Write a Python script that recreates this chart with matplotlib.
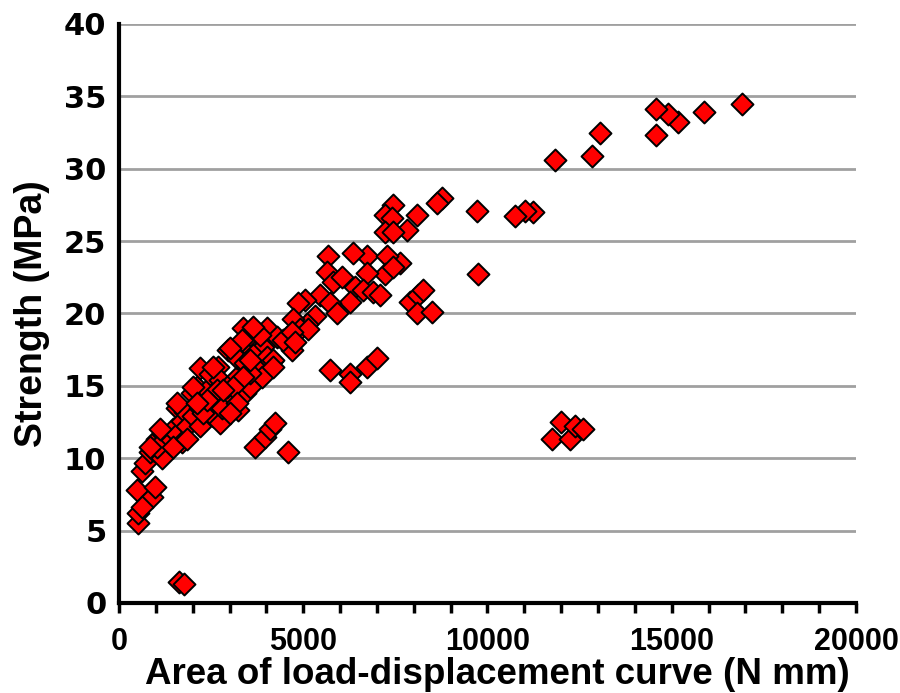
import matplotlib
matplotlib.use("Agg")
import matplotlib.pyplot as plt
from matplotlib.ticker import MultipleLocator

plt.rcParams['font.family'] = ['Liberation Sans', 'DejaVu Sans']
plt.rcParams['font.weight'] = 'bold'

# Area of load-displacement curve (N mm) vs strength (MPa)
area = [
    16910, 15880, 15170, 14900, 14570, 14570, 13050, 12840, 11830, 11240,
    11020, 10750, 9720, 9740, 8770, 8630, 8090, 7820, 7630, 7900,
    8110, 8250, 8090, 8490,
    11750, 12000, 12240, 12370, 12590,
    7440, 7220, 7410, 7220, 7440, 6730, 7270, 7220, 7440, 6730,
    6350, 5670, 5650, 5810, 6050, 6400, 6620, 6890, 7080, 6270,
    5460, 5730, 5920, 5050, 4860, 5320, 5100, 4720, 4560, 4910,
    4700, 5130,
    5730, 6270, 6270, 6730, 7000, 4590, 3690, 3960, 4100, 4230,
    1630, 1760,
    490, 900, 980, 520, 520, 620, 620, 710, 840, 920,
    1030, 1170, 1190, 1380, 1470, 1570, 1710, 1790, 1030, 1470,
    1570, 1710, 1790, 1850, 2010, 2200, 1980, 2120, 2390, 2200,
    2470, 2690, 2740, 2660, 2470, 2200, 2550, 2740, 2930, 3010,
    3230, 3200, 2930, 2960, 3200, 3470, 3370, 3420, 3770, 3880,
    3470, 3560, 3370, 3750, 3910, 4150, 4020, 4290, 4450, 4700,
    4780, 3640, 4020, 3340, 4180, 3830, 3640, 3560, 4180, 3560,
    3420, 2010, 1570, 1110, 840, 1850, 2280, 2800, 2390, 3010,
    3560, 2550, 3370, 3090, 2820, 2120, 3200, 3010,
]
strength = [
    34.5, 33.9, 33.2, 33.8, 34.1, 32.3, 32.5, 30.9, 30.6, 27.0,
    27.1, 26.7, 27.1, 22.7, 28.0, 27.6, 26.8, 25.8, 23.5, 20.8,
    21.3, 21.6, 20.0, 20.1,
    11.3, 12.5, 11.3, 12.2, 12.0,
    27.5, 26.8, 26.6, 25.6, 25.6, 24.0, 24.0, 22.7, 23.2, 22.8,
    24.2, 24.0, 22.9, 22.2, 22.5, 21.8, 21.6, 21.5, 21.3, 20.8,
    21.3, 20.7, 20.0, 20.9, 20.7, 19.8, 19.3, 19.6, 18.4, 18.9,
    17.5, 18.9,
    16.1, 15.8, 15.3, 16.3, 16.9, 10.4, 10.8, 11.5, 12.0, 12.4,
    1.45, 1.3,
    7.8, 7.3, 8.0, 5.5, 6.2, 6.6, 9.1, 9.7, 10.4, 10.6,
    11.3, 10.0, 11.7, 11.1, 12.0, 11.7, 11.1, 12.5, 10.8, 10.8,
    13.5, 12.6, 13.2, 12.2, 12.9, 12.2, 14.5, 14.9, 14.7, 16.2,
    15.8, 16.3, 15.4, 14.7, 13.8, 13.5, 12.9, 12.4, 13.7, 14.0,
    13.3, 15.6, 14.9, 17.5, 16.9, 16.3, 15.2, 14.5, 16.6, 15.6,
    17.8, 18.5, 19.0, 18.7, 17.7, 16.7, 19.0, 18.4, 18.2, 18.7,
    18.0, 17.1, 17.0, 18.2, 16.8, 18.5, 19.1, 14.9, 16.3, 15.9,
    16.6, 14.9, 13.8, 12.0, 10.8, 11.3, 13.1, 13.5, 14.0, 17.6,
    16.8, 16.3, 15.6, 14.9, 14.7, 13.8, 13.8, 13.1,
]

fig = plt.figure(figsize=(9, 6.93), dpi=100)
ax = fig.add_axes([0.1322, 0.1299, 0.8189, 0.8355])

ax.scatter(area, strength, marker='D', s=125, c='#ff0000',
           edgecolors='black', linewidths=1.4, zorder=3, clip_on=False)

ax.set_xlim(0, 20000)
ax.set_ylim(0, 40)
ax.xaxis.set_major_locator(MultipleLocator(5000))
ax.xaxis.set_minor_locator(MultipleLocator(1000))
ax.yaxis.set_major_locator(MultipleLocator(5))

ax.grid(axis='y', color='#a0a0a0', linewidth=2, zorder=0)
ax.set_axisbelow(True)

for side in ['top', 'right']:
    ax.spines[side].set_visible(False)
for side in ['left', 'bottom']:
    ax.spines[side].set_linewidth(3)
    ax.spines[side].set_zorder(4)

ax.tick_params(axis='x', which='both', direction='out', length=7, width=2.5,
               labelsize=22, pad=10)
ax.tick_params(axis='y', which='both', length=0, labelsize=22, pad=9)
for lab in ax.get_yticklabels():
    lab.set_family('DejaVu Sans')

ax.set_xlabel('Area of load-displacement curve (N mm)', fontsize=26.5,
              fontweight='bold')
ax.xaxis.set_label_coords(0.513, -0.093)
ax.set_ylabel('Strength (MPa)', fontsize=27, fontweight='bold', labelpad=10)

fig.savefig('out.png', dpi=100)
